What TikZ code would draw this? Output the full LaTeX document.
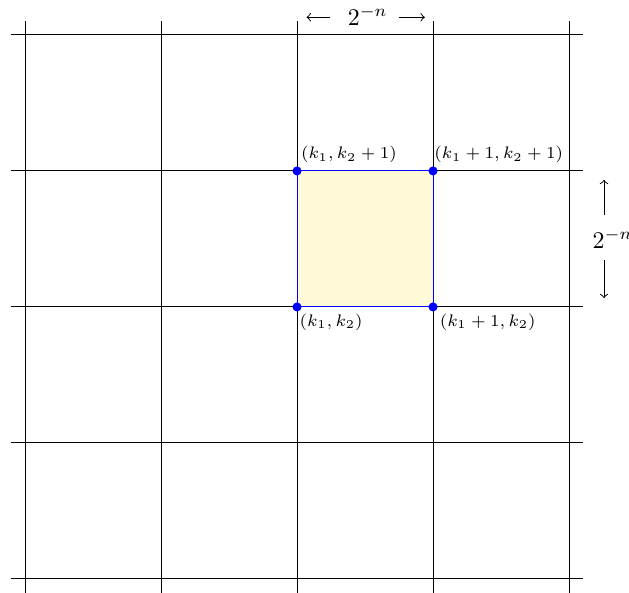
\documentclass[tikz,border=0pt]{standalone}
\usepackage{amsmath}
\usetikzlibrary{arrows.meta, positioning}
\definecolor{cellfill}{HTML}{FEF9D7}

\begin{document}
\begin{tikzpicture}[
  x=2cm, y=2cm,
  gridline/.style={thin, black},
  cell/.style={draw=blue, fill=cellfill},
  corner/.style={circle, fill=blue, inner sep=0pt, minimum size=3.8pt},
  lab/.style={font=\scriptsize, inner sep=1.5pt},
  arrow/.style={-to, thin}
]
  \useasboundingbox (-0.184,-0.103) rectangle (4.441,4.257);

  % grid
  \foreach \i in {0,...,4} {
    \draw[gridline] (-0.1,\i) -- (4.1,\i);
    \draw[gridline] (\i,-0.1) -- (\i,4.1);
  }

  % highlighted cell
  \draw[cell] (2,2) rectangle (3,3);
  \node[corner] (p00) at (2,2) {};
  \node[corner] (p10) at (3,2) {};
  \node[corner] (p01) at (2,3) {};
  \node[corner] (p11) at (3,3) {};

  \node[lab, anchor=south west] (l01) at (2,3.03) {$(k_1,k_2+1)$};
  \node[lab, anchor=south west] (l11) at (2.98,3.03) {$(k_1+1,k_2+1)$};
  \node[lab, anchor=north west] (l00) at (1.99,1.98) {$(k_1,k_2)$};
  \node[lab, anchor=north west] (l10) at (3.02,1.98) {$(k_1+1,k_2)$};

  % spacing marks
  \node (wd) at (2.52,4.14) {$2^{-n}$};
  \coordinate (wl) at (2.07,4.13);
  \coordinate (wr) at (2.94,4.13);
  \draw[arrow] ([xshift=-4pt]wd.west |- wl) -- (wl);
  \draw[arrow] ([xshift=1pt]wd.east |- wr) -- (wr);

  \node (ht) at (4.32,2.5) {$2^{-n}$};
  \coordinate (hu) at (4.257,2.935);
  \coordinate (hd) at (4.257,2.065);
  \draw[arrow] (4.257,2.675) -- (hu);
  \draw[arrow] (4.257,2.345) -- (hd);
\end{tikzpicture}
\end{document}
